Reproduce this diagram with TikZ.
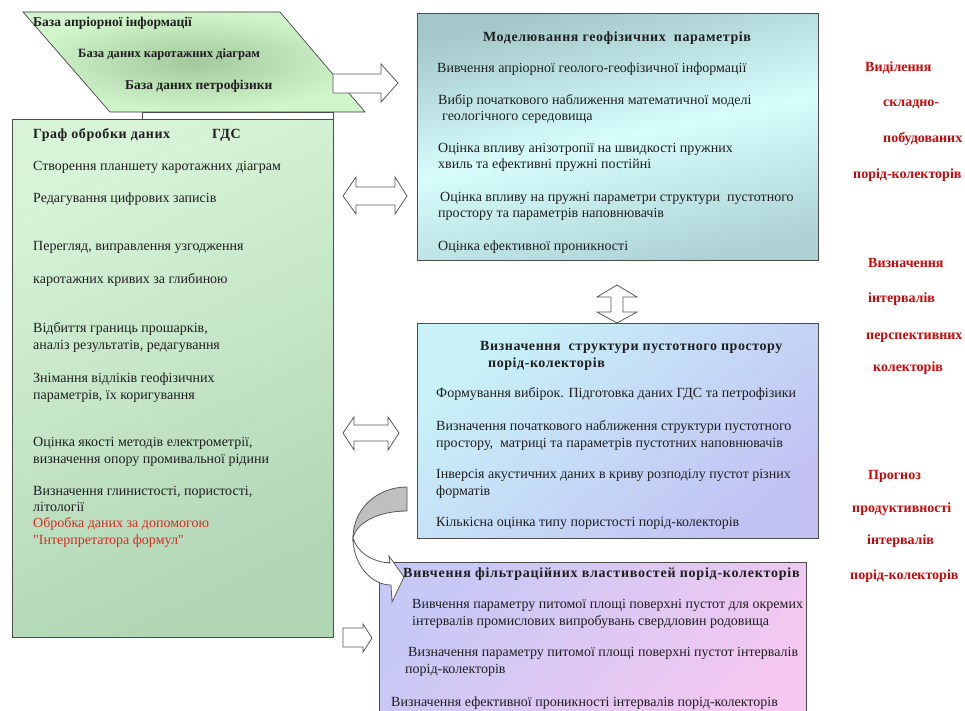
\documentclass[tikz,border=0pt]{standalone}
\usepackage{fontspec}
\setmainfont{Liberation Serif}
\usetikzlibrary{positioning, arrows.meta}

\definecolor{baselt}{HTML}{D2F6CC}
\definecolor{basedk}{HTML}{A4C89E}
\definecolor{graflt}{HTML}{D8F4D8}
\definecolor{grafdk}{HTML}{B0D6B4}
\definecolor{modlt}{HTML}{D6FCFC}
\definecolor{moddk}{HTML}{A4C8CA}
\definecolor{strlt}{HTML}{C8F2F8}
\definecolor{strdk}{HTML}{C2C2F4}
\definecolor{filtlt}{HTML}{C6C8F6}
\definecolor{filtdk}{HTML}{F4C8F0}
\definecolor{notered}{HTML}{C40A0A}
\definecolor{bodyred}{HTML}{D42A22}
\definecolor{ink}{HTML}{1E1E1E}

\begin{document}
\begin{tikzpicture}[
    x=1pt, y=-1pt,
    box/.style={draw=black!70, line width=1.1pt, anchor=north west, inner sep=0pt},
    txt/.style={anchor=base west, inner sep=0pt, text=ink, align=left,
        font=\fontsize{14}{16.2}\selectfont},
    head/.style={txt, font=\fontsize{14}{16.2}\selectfont\bfseries\addfontfeature{LetterSpace=4}},
    dbase/.style={txt, font=\fontsize{13.5}{16}\selectfont\bfseries},
    note/.style={anchor=base west, inner sep=0pt, text=notered,
        font=\fontsize{14}{16}\selectfont\bfseries},
    blockarrow/.style={draw=black!65, fill=white, line width=0.8pt, line join=miter}
]
    \useasboundingbox (0,0) rectangle (965,711);
    \fill[white] (0,0) rectangle (965,711);

    % data bases
    \path[draw=black!80, line width=0.6pt, inner color=basedk, outer color=baselt]
        (23,12) -- (280,12) -- (365,112) -- (110,112) -- cycle;
    \draw[black!70, line width=0.8pt] (142,112) rectangle (333,119);
    \node[dbase] (apriori) at (33,27) {База апріорної інформації};
    \node[dbase, font=\fontsize{12.6}{15}\selectfont\bfseries] (karot) at (78,58) {База даних каротажних діаграм};
    \node[dbase] (petro) at (125,90) {База даних петрофізики};

    % boxes
    \node[box, minimum width=321pt, minimum height=518pt,
        top color=graflt, bottom color=grafdk, shading angle=25] (graf) at (12,119) {};
    \node[box, minimum width=401pt, minimum height=247pt,
        top color=moddk, bottom color=moddk!80!modlt, middle color=modlt, shading angle=12] (model) at (417,13) {};
    \node[box, minimum width=401pt, minimum height=215pt,
        top color=strlt, bottom color=strdk, shading angle=40] (struct) at (417,323) {};
    \node[box, minimum width=427pt, minimum height=160pt,
        top color=filtlt, bottom color=filtdk, shading angle=50] (filtr) at (379,562) {};

    % block arrows
    \draw[blockarrow] (333,74) -- (381,74) -- (381,64) -- (398,83) -- (381,102)
        -- (381,93) -- (333,93) -- cycle;
    \draw[blockarrow] (343,196) -- (356,177) -- (356,187) -- (395,187) -- (395,177)
        -- (407,196) -- (395,214) -- (395,205) -- (356,205) -- (356,214) -- cycle;
    \draw[blockarrow] (617,285) -- (637,297) -- (623,297) -- (623,312) -- (637,312)
        -- (617,323) -- (597,312) -- (611,312) -- (611,297) -- (597,297) -- cycle;
    \draw[blockarrow] (343,433) -- (354,417) -- (354,425) -- (388,425) -- (388,417)
        -- (399,433) -- (388,450) -- (388,441) -- (354,441) -- (354,450) -- cycle;
    \draw[blockarrow] (343,628) -- (363,628) -- (363,624) -- (372,638) -- (363,652)
        -- (363,647) -- (343,647) -- cycle;
    % curved arrow
    \draw[blockarrow, fill=black!25] (407,487) .. controls (376,487) and (353,510) .. (353,538)
        .. controls (356,523) and (378,511) .. (407,511) -- cycle;
    \draw[blockarrow] (353,538) .. controls (353,563) and (370,585) .. (391,585)
        -- (392,602) -- (404,577) -- (389,556) -- (390,563)
        .. controls (372,562) and (357,552) .. (353,538) -- cycle;

    % graph of processing
    \node[head] (grafhead) at (33,139) {Граф обробки даних\hspace{3em}ГДС};
    \node[txt] (g1) at (33,171) {Створення планшету каротажних діаграм};
    \node[txt] (g2) at (33,203) {Редагування цифрових записів};
    \node[txt] (g3) at (33,251) {Перегляд, виправлення узгодження};
    \node[txt] (g4) at (33,283) {каротажних кривих за глибиною};
    \node[txt] (g5) at (33,349) {Відбиття границь прошарків,\\аналіз результатів, редагування};
    \node[txt] (g6) at (33,399) {Знімання відліків геофізичних\\параметрів, їх коригування};
    \node[txt] (g7) at (33,463) {Оцінка якості методів електрометрії,\\визначення опору промивальної рідини};
    \node[txt] (g8) at (33,544) {Визначення глинистості, пористості,\\літології\\
        \textcolor{bodyred}{Обробка даних за допомогою}\\\textcolor{bodyred}{\textquotedbl Інтерпретатора формул\textquotedbl}};

    % modelling
    \node[head, anchor=base] (modhead) at (617,42) {Моделювання геофізичних\ \ параметрів};
    \node[txt] (m1) at (437,73) {Вивчення апріорної геолого-геофізичної інформації};
    \node[txt] (m2) at (438,121) {Вибір початкового наближення математичної моделі\\\hspace*{4pt}геологічного середовища};
    \node[txt] (m3) at (438,169) {Оцінка впливу анізотропії на швидкості пружних\\хвиль та ефективні пружні постійні};
    \node[txt] (m4) at (438,218) {\hspace*{2pt}Оцінка впливу на пружні параметри структури\ \ пустотного\\простору та параметрів наповнювачів};
    \node[txt] (m5) at (438,250) {Оцінка ефективної проникності};

    % pore space structure
    \node[head] (strhead) at (480,367) {Визначення\ \ структури пустотного простору\\\hspace*{8pt}порід-колекторів};
    \node[txt] (s1) at (436,397) {Формування вибірок. Підготовка даних ГДС та петрофізики};
    \node[txt] (s2) at (436,447) {Визначення початкового наближення структури пустотного\\простору,\ \ матриці та параметрів пустотних наповнювачів};
    \node[txt] (s3) at (436,495) {Інверсія акустичних даних в криву розподілу пустот різних\\форматів};
    \node[txt] (s4) at (436,526) {Кількісна оцінка типу пористості порід-колекторів};

    % filtration
    \node[head, font=\fontsize{14}{16.2}\selectfont\bfseries\addfontfeature{LetterSpace=5.5}] (filthead) at (403,577) {Вивчення фільтраційних властивостей порід-колекторів};
    \node[txt] (f1) at (412,625) {Вивчення параметру питомої площі поверхні пустот для окремих\\інтервалів промислових випробувань свердловин родовища};
    \node[txt] (f2) at (405,673) {\hspace*{3pt}Визначення параметру питомої площі поверхні пустот інтервалів\\порід-колекторів};
    \node[txt] (f3) at (391,706) {Визначення ефективної проникності інтервалів порід-колекторів};

    % results
    \node[note] (r1) at (865,72) {Виділення};
    \node[note] (r2) at (883,107) {складно-};
    \node[note] (r3) at (883,143) {побудованих};
    \node[note] (r4) at (853,179) {порід-колекторів};
    \node[note] (r5) at (868,267) {Визначення};
    \node[note] (r6) at (868,302) {інтервалів};
    \node[note] (r7) at (866,339) {перспективних};
    \node[note] (r8) at (873,371) {колекторів};
    \node[note] (r9) at (868,479) {Прогноз};
    \node[note] (r10) at (852,512) {продуктивності};
    \node[note] (r11) at (867,544) {інтервалів};
    \node[note] (r12) at (850,579) {порід-колекторів};
\end{tikzpicture}
\end{document}
